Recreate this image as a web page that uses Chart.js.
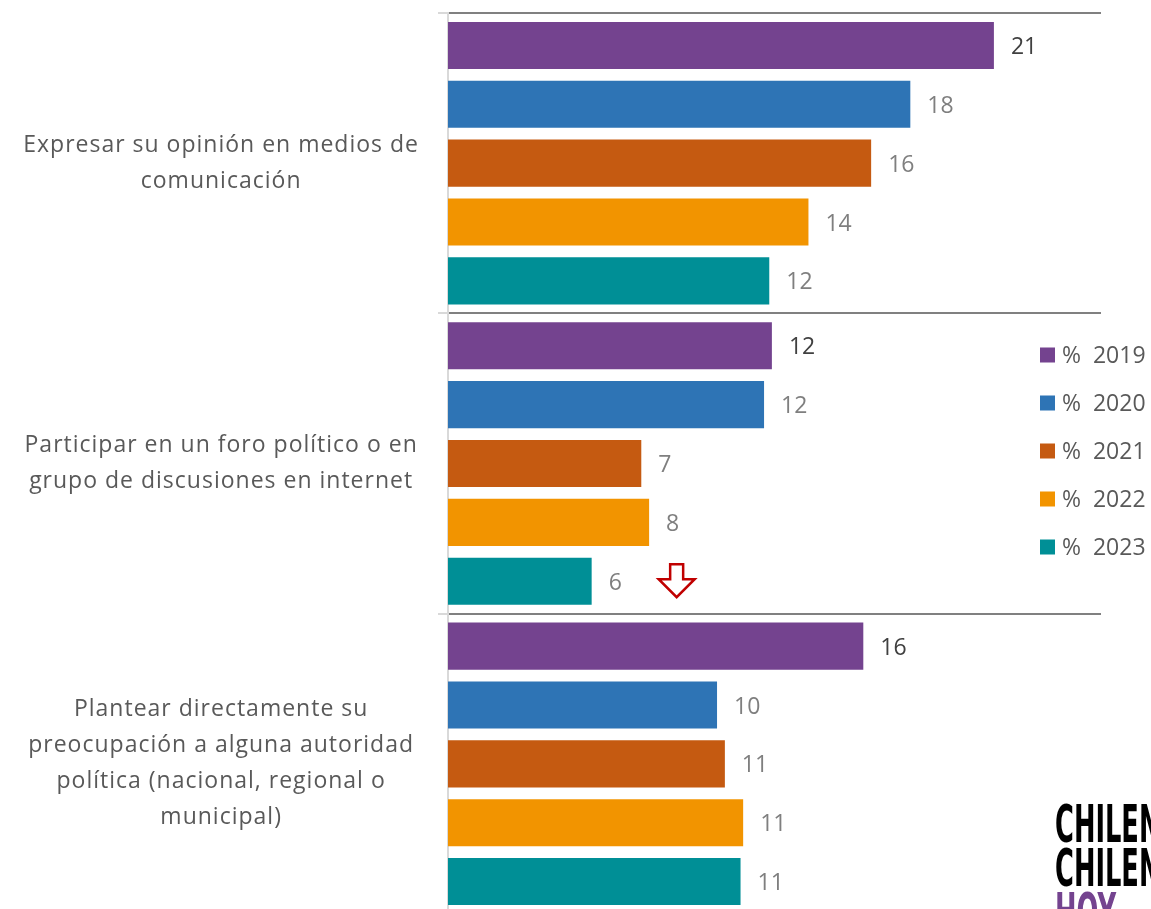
<!DOCTYPE html>
<html>
<head>
<meta charset="utf-8">
<script src="https://cdn.jsdelivr.net/npm/chart.js@4"></script>
<style>
  html, body { margin: 0; padding: 0; background: #fff; overflow: hidden; }
  #wrap { position: relative; width: 1151px; height: 917px; }
  .logo {
    position: absolute; left: 1055px; top: 802px;
    font-family: "Liberation Sans Narrow", "DejaVu Sans Condensed", sans-serif;
    font-weight: bold; font-size: 52px; line-height: 44px; color: #000;
    white-space: nowrap; transform: scaleX(0.55); transform-origin: left top;
  }
</style>
</head>
<body>
<div id="wrap">
  <canvas id="barChart"></canvas>
  <div class="logo">CHILENOS<br>CHILENOS<br><span style="color:#74438f">HOY</span></div>
</div>
<script>
const categories = [
  ["Expresar su opinión en medios de", "comunicación"],
  ["Participar en un foro político o en", "grupo de discusiones en internet"],
  ["Plantear directamente su", "preocupación a alguna autoridad", "política (nacional, regional o", "municipal)"],
];
const years = ["2019", "2020", "2021", "2022", "2023"];
const v2019 = [20.9, 12.4, 15.9];
const v2020 = [17.7, 12.1, 10.3];
const v2021 = [16.2, 7.4, 10.6];
const v2022 = [13.8, 7.7, 11.3];
const v2023 = [12.3, 5.5, 11.2];
const colors = ["#74438f", "#2e74b5", "#c55a11", "#f29400", "#008f96"];

const font = '"Open Sans", sans-serif';

// value labels, arrow and legend drawn on the canvas
const valueLabels = {
  id: "valueLabels",
  beforeLayout(chart) {
    // the category labels in the original are loosely spaced
    chart.ctx.letterSpacing = "1px";
  },
  afterDatasetsDraw(chart) {
    const ctx = chart.ctx;
    ctx.save();
    ctx.letterSpacing = "0px";
    ctx.font = "23px " + font;
    ctx.textBaseline = "middle";
    ctx.textAlign = "left";
    chart.data.datasets.forEach((ds, i) => {
      chart.getDatasetMeta(i).data.forEach((bar, j) => {
        ctx.fillStyle = i === 0 ? "#404040" : "#7f7f7f";
        ctx.fillText(Math.round(ds.data[j]), bar.x + 17, bar.y + 2);
      });
    });
    // red down arrow next to the 2023 bar of the second item
    const b = chart.getDatasetMeta(4).data[1];
    const cx = b.x + 85, cy = b.y;
    ctx.beginPath();
    ctx.moveTo(cx - 6.5, cy - 17);
    ctx.lineTo(cx + 6.5, cy - 17);
    ctx.lineTo(cx + 6.5, cy - 2);
    ctx.lineTo(cx + 18, cy - 2);
    ctx.lineTo(cx, cy + 16);
    ctx.lineTo(cx - 18, cy - 2);
    ctx.lineTo(cx - 6.5, cy - 2);
    ctx.closePath();
    ctx.fillStyle = "#fff";
    ctx.fill();
    ctx.strokeStyle = "#c00000";
    ctx.lineWidth = 2.5;
    ctx.stroke();
    ctx.restore();
  },
  afterDraw(chart) {
    const ctx = chart.ctx;
    ctx.save();
    ctx.letterSpacing = "0px";
    ctx.font = "23px " + font;
    ctx.textBaseline = "middle";
    chart.data.datasets.forEach((ds, i) => {
      const y = 355 + i * 48;
      ctx.fillStyle = ds.backgroundColor;
      ctx.fillRect(1040, y - 7.5, 15, 15);
      ctx.fillStyle = "#595959";
      ctx.fillText("%  " + years[i], 1062, y + 1);
    });
    ctx.restore();
  },
};

const ctx = document.getElementById("barChart").getContext("2d");
const myChart = new Chart(ctx, {
  type: "bar",
  data: {
    labels: categories,
    datasets: [v2019, v2020, v2021, v2022, v2023].map((d, i) => ({
      label: "% " + years[i],
      data: d,
      backgroundColor: colors[i],
      categoryPercentage: 0.98,
      barPercentage: 0.8,
    })),
  },
  options: {
    indexAxis: "y",
    responsive: true,
    maintainAspectRatio: false,
    animation: false,
    layout: { padding: { top: 13, right: 50, bottom: 3, left: 0 } },
    plugins: {
      legend: { display: false },
      tooltip: { enabled: false },
    },
    scales: {
      x: { display: false, min: 0, max: 25 },
      y: {
        afterFit(scale) {
          scale.width = 448;
          scale.paddingTop = 0;
          scale.paddingBottom = 0;
        },
        grid: {
          color: "#808080",
          lineWidth: 2,
          tickColor: "#d9d9d9",
          tickLength: 10,
        },
        border: { color: "#d9d9d9", width: 2 },
        ticks: {
          crossAlign: "center",
          padding: 19,
          color: "#595959",
          font: { family: font, size: 23, lineHeight: 36 / 23 },
        },
      },
    },
  },
  plugins: [valueLabels],
});
</script>
</body>
</html>
